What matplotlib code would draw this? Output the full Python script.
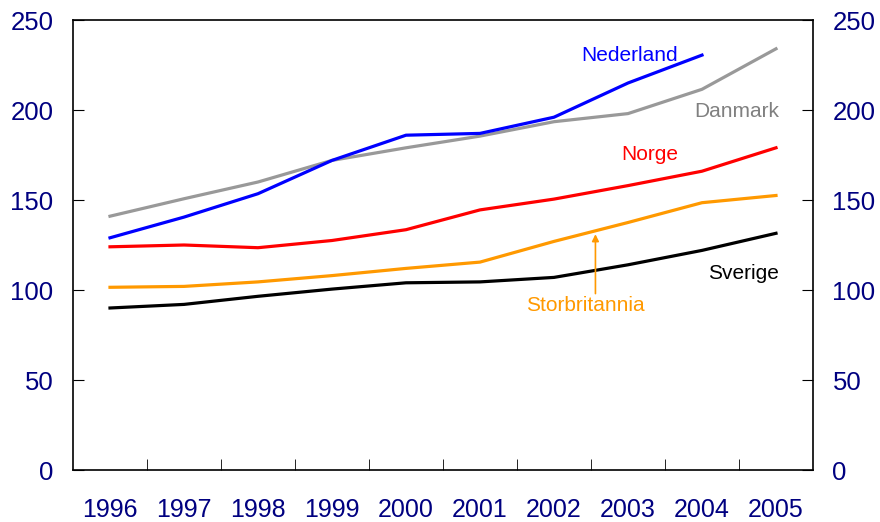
import matplotlib
matplotlib.use("Agg")
import matplotlib.pyplot as plt
import numpy as np
from matplotlib.ticker import FixedLocator

plt.rcParams['font.family'] = ['Liberation Sans', 'DejaVu Sans']

years = ['1996', '1997', '1998', '1999', '2000', '2001', '2002', '2003', '2004', '2005']
nederland = [129, 140.5, 153.5, 172, 186, 187, 196, 215, 230.5]
danmark = [141, 150.7, 160, 172, 179, 185.5, 193.5, 198, 211.5, 234]
norge = [124, 125, 123.5, 127.5, 133.5, 144.5, 150.5, 158, 166, 179]
storbritannia = [101.5, 102, 104.5, 108, 112, 115.5, 127, 137.5, 148.5, 152.5]
sverige = [90, 92, 96.5, 100.5, 104, 104.5, 107, 114, 122, 131.5]

navy = '#000080'

fig = plt.figure(figsize=(8.8, 5.22), dpi=100)
ax = fig.add_axes([73 / 880, 52 / 522, 740 / 880, 450 / 522])

x = np.arange(len(years))
lw = 2.3
ax.plot(x, danmark, color='#999999', lw=lw)
ax.plot(x[:len(nederland)], nederland, color='#0000FF', lw=lw)
ax.plot(x, norge, color='#FF0000', lw=lw)
ax.plot(x, storbritannia, color='#FF9900', lw=lw)
ax.plot(x, sverige, color='black', lw=lw)

ax.set_xlim(-0.5, 9.5)
ax.set_ylim(0, 250)
ax.set_yticks(range(0, 251, 50))
ax.set_xticks(x)
ax.set_xticklabels(years)
ax.xaxis.set_minor_locator(FixedLocator(np.arange(0.5, 9, 1)))
ax.tick_params(axis='x', which='major', length=0, pad=20, labelsize=18, labelcolor=navy)
ax.tick_params(axis='x', which='minor', direction='in', length=8, top=False)
ax.tick_params(axis='y', direction='in', length=8, left=True, right=True,
               labelleft=True, labelright=True, labelsize=18.5, labelcolor=navy, pad=14)
for s in ax.spines.values():
    s.set_linewidth(1.2)

fs = 15
ax.text(7.02, 227.5, 'Nederland', color='#0000FF', fontsize=fs, ha='center', va='baseline')
ax.text(9.04, 196, 'Danmark', color='#808080', fontsize=fs, ha='right', va='baseline')
ax.text(7.29, 172.3, 'Norge', color='#FF0000', fontsize=fs, ha='center', va='baseline')
ax.text(9.04, 106, 'Sverige', color='black', fontsize=fs, ha='right', va='baseline')
ax.text(6.42, 88.3, 'Storbritannia', color='#FF9900', fontsize=fs, ha='center', va='baseline')
ax.annotate('', xy=(6.56, 131), xytext=(6.56, 98),
            arrowprops=dict(arrowstyle='-|>', color='#FF9900', lw=1.2,
                            mutation_scale=10, shrinkA=0, shrinkB=0))

fig.savefig('out.png', dpi=100)
